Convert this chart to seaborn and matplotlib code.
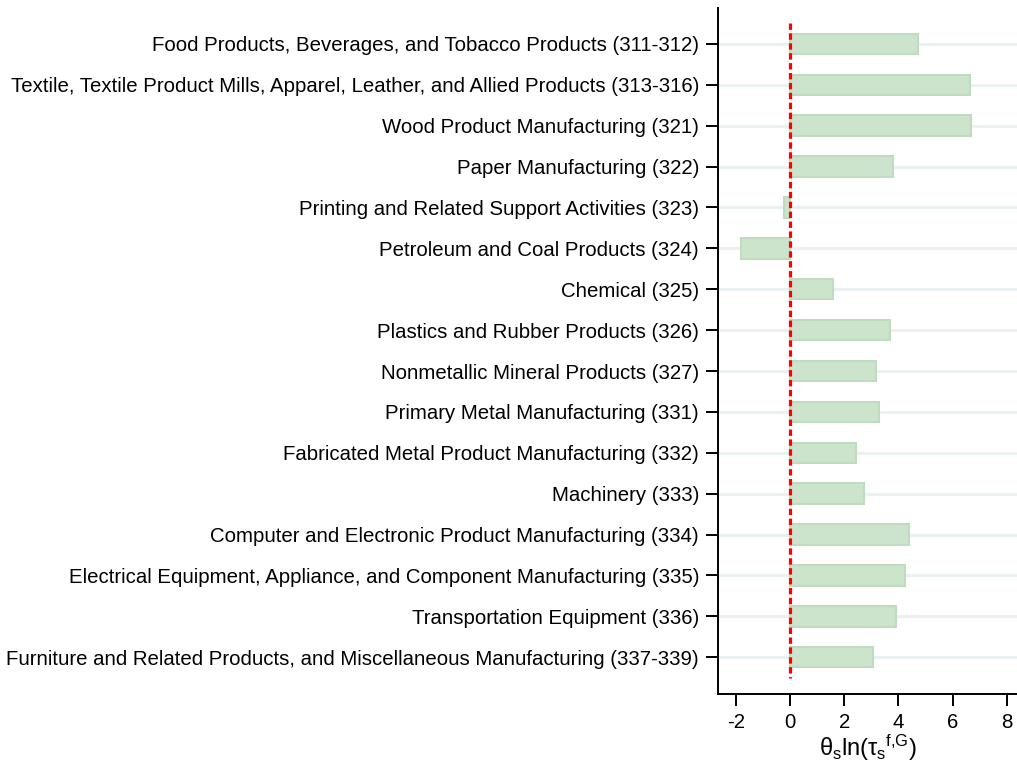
import numpy as np
import pandas as pd
import matplotlib
matplotlib.use('Agg')
import matplotlib.pyplot as plt
import seaborn as sns

industries = [
    'Food Products, Beverages, and Tobacco Products (311-312)',
    'Textile, Textile Product Mills, Apparel, Leather, and Allied Products (313-316)',
    'Wood Product Manufacturing (321)',
    'Paper Manufacturing (322)',
    'Printing and Related Support Activities (323)',
    'Petroleum and Coal Products (324)',
    'Chemical (325)',
    'Plastics and Rubber Products (326)',
    'Nonmetallic Mineral Products (327)',
    'Primary Metal Manufacturing (331)',
    'Fabricated Metal Product Manufacturing (332)',
    'Machinery (333)',
    'Computer and Electronic Product Manufacturing (334)',
    'Electrical Equipment, Appliance, and Component Manufacturing (335)',
    'Transportation Equipment (336)',
    'Furniture and Related Products, and Miscellaneous Manufacturing (337-339)',
]
values = [4.71, 6.63, 6.67, 3.79, -0.23, -1.82, 1.57, 3.67,
          3.16, 3.27, 2.42, 2.71, 4.38, 4.23, 3.90, 3.05]
xticks = [-2, 0, 2, 4, 6, 8]

sns.set_theme(style='white')
plt.rcParams['font.family'] = ['Liberation Sans', 'DejaVu Sans']
plt.rcParams['mathtext.fontset'] = 'custom'
plt.rcParams['mathtext.rm'] = 'Liberation Sans'
plt.rcParams['mathtext.it'] = 'Liberation Sans'
plt.rcParams['mathtext.bf'] = 'Liberation Sans'

df = pd.DataFrame({'industry': industries, 'value': values})

fig = plt.figure(figsize=(10.17, 7.64), dpi=100)
ax = fig.add_axes([0.706, 0.0916, 0.294, 0.898])

sns.barplot(data=df, x='value', y='industry', orient='h', width=0.5,
            color='#cde4cc', edgecolor='#bfdcbf', linewidth=1.5,
            saturation=1, ax=ax)

# light horizontal guides behind the bars
ax.set_axisbelow(True)
ax.yaxis.grid(True, color='#eaf1f3', lw=2.2)
ax.xaxis.grid(False)

ax.vlines(0, -0.5, len(industries) - 0.5, color='#ff0000', lw=2.3,
          linestyles=(0, (2.0, 1.1)), zorder=5)

ax.set_xlim(-2.67, 8.38)
ax.set_ylim(len(industries) - 0.1, -0.88)
ax.set_xticks(xticks)
ax.set_xticklabels([str(t) for t in xticks])

for s in ['top', 'right']:
    ax.spines[s].set_visible(False)
for s in ['left', 'bottom']:
    ax.spines[s].set_color('black')
    ax.spines[s].set_linewidth(1.4)

ax.tick_params(axis='both', which='major', direction='out', length=8.6,
               width=1.4, color='black', labelcolor='black', labelsize=14.7,
               pad=5, left=True, bottom=True)

ax.set_ylabel('')
ax.set_xlabel(r'$\theta_s$ln$(\tau_s{}^{f{,}G})$', fontsize=17,
              labelpad=1, color='black')

fig.savefig('out.png', dpi=100)
